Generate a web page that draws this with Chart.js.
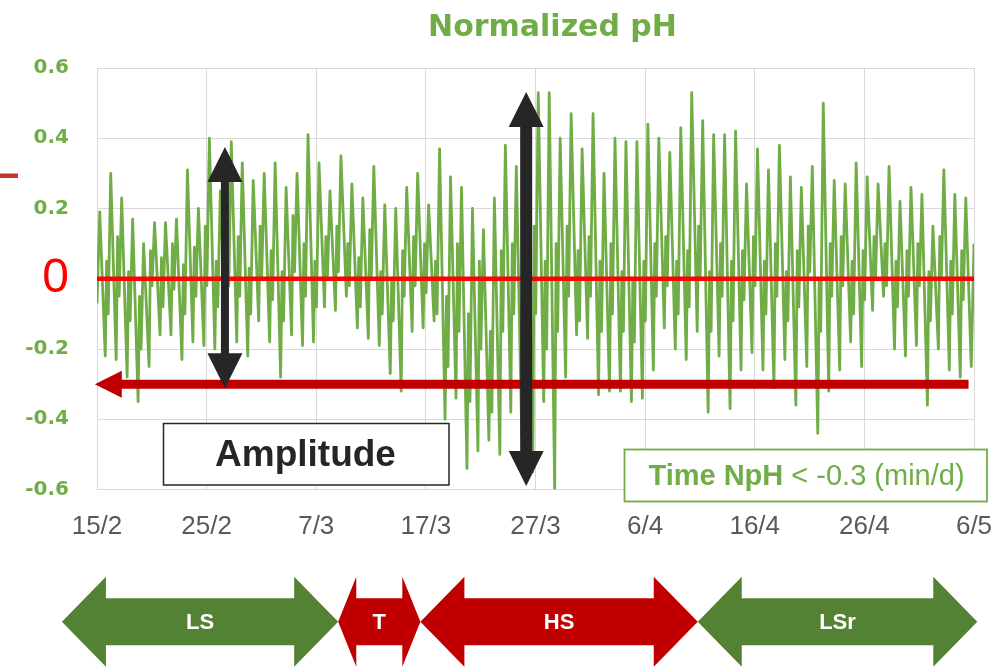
<!DOCTYPE html>
<html><head><meta charset="utf-8">
<script src="https://cdn.jsdelivr.net/npm/chart.js@4.4.1/dist/chart.umd.min.js"></script>
<style>html,body{margin:0;padding:0;background:#fff;} #wrap{width:1004px;height:669px;position:relative;}</style>
</head><body><div id="wrap"><canvas id="c" width="1004" height="669"></canvas></div>
<script>
// ---- data ----
const xTickLabels = ['15/2','25/2','7/3','17/3','27/3','6/4','16/4','26/4','6/5'];
const yTickLabels = ['-0.6','-0.4','-0.2','0','0.2','0.4','0.6'];
// daily maximum (afternoon) of normalized pH, day 0 = 15/2
const dayPeaks = [
  0.19,0.30,0.23,0.17,0.10,0.16,0.16,0.17,0.31,0.20,
  0.40,0.25,0.39,0.33,0.28,0.30,0.33,0.26,0.30,0.41,
  0.33,0.25,0.35,0.27,0.23,0.32,0.21,0.20,0.26,0.30,
  0.21,0.37,0.29,0.26,0.20,0.14,0.23,0.38,0.32,0.45,
  0.53,0.53,0.40,0.47,0.37,0.47,0.30,0.40,0.39,0.39,
  0.44,0.40,0.36,0.43,0.53,0.45,0.41,0.41,0.42,0.27,
  0.37,0.31,0.38,0.29,0.26,0.32,0.50,0.28,0.27,0.33,
  0.29,0.27,0.32,0.22,0.26,0.24,0.15,0.31,0.24,0.23
];
// daily minimum (night) of normalized pH
const dayTroughs = [
  -0.22,-0.23,-0.28,-0.35,-0.25,-0.16,-0.16,-0.23,-0.18,-0.19,
  -0.20,-0.15,-0.18,-0.22,-0.12,-0.18,-0.28,-0.16,-0.19,-0.18,
  -0.08,-0.09,-0.05,-0.14,-0.17,-0.19,-0.27,-0.32,-0.15,-0.14,
  -0.12,-0.40,-0.34,-0.54,-0.49,-0.46,-0.50,-0.38,-0.45,-0.55,
  -0.35,-0.60,-0.28,-0.16,-0.17,-0.33,-0.32,-0.32,-0.35,-0.34,
  -0.26,-0.14,-0.20,-0.23,-0.15,-0.38,-0.22,-0.37,-0.26,-0.21,
  -0.26,-0.31,-0.23,-0.36,-0.25,-0.44,-0.32,-0.26,-0.18,-0.25,
  -0.09,-0.05,-0.20,-0.22,-0.19,-0.36,-0.20,-0.26,-0.28,-0.25
];
// secondary early-morning rebound after each night minimum
const morningRebound = [
  0.05,0.12,0.02,-0.05,0.08,0.06,0.10,0.04,0.09,0.15,
  0.05,0.10,0.12,0.03,0.15,0.08,0.02,0.18,0.10,0.05,
  0.12,0.15,0.10,0.06,0.14,0.02,0.00,0.08,0.12,0.10,
  0.05,-0.05,0.10,-0.10,0.05,-0.15,0.08,0.10,-0.05,0.15,
  0.05,0.10,0.15,0.08,0.12,0.05,0.10,0.02,0.00,0.05,
  0.10,0.12,0.05,0.08,0.15,0.02,0.10,0.05,0.08,0.12,
  0.05,0.10,0.02,0.08,0.15,0.00,0.10,0.12,0.05,0.08,
  0.12,0.10,0.05,0.08,0.10,0.02,0.12,0.05,0.08
];
// short dip that follows the rebound, before the next daily rise
const morningDip = [
  -0.10,-0.05,-0.12,-0.20,-0.02,-0.08,-0.03,-0.10,-0.05,-0.02,
  -0.08,-0.02,-0.05,-0.10,0.00,-0.06,-0.12,0.02,-0.05,-0.08,
  0.00,0.02,-0.02,-0.08,0.00,-0.10,-0.12,-0.05,-0.02,-0.04,
  -0.10,-0.25,-0.15,-0.35,-0.20,-0.38,-0.15,-0.10,-0.30,-0.10,
  -0.20,-0.15,-0.05,-0.12,-0.05,-0.15,-0.10,-0.15,-0.18,-0.12,
  -0.05,-0.02,-0.10,-0.08,0.00,-0.15,-0.05,-0.12,-0.06,-0.02,
  -0.10,-0.05,-0.12,-0.08,0.02,-0.15,-0.05,-0.02,-0.10,-0.06,
  0.00,-0.02,-0.08,-0.05,-0.02,-0.12,0.00,-0.10,-0.06
];
const startValue = -0.07;
const endValue = 0.10;
const thresholdValue = -0.3;
const thresholdFrom = -0.2, thresholdTo = 79.5;
const amplitudeDays = [11.67, 39.15];
const amplitudeTop = [0.375, 0.532];
const amplitudeBottom = [-0.312, -0.59];
const phaseNames = ['LS','T','HS','LSr'];
const phaseFrom = [-3.2, 22.0, 29.5, 54.8];
const phaseTo = [22.0, 29.5, 54.8, 80.3];

// ---- build series ----
const series = [{x:0, y:startValue}];
for (let d = 0; d < dayPeaks.length; d++) {
  series.push({x:d+0.25, y:dayPeaks[d]});
  series.push({x:d+0.75, y:dayTroughs[d]});
  if (d < morningRebound.length) {
    series.push({x:d+0.88, y:morningRebound[d]});
    series.push({x:d+1.02, y:morningDip[d]});
  }
}
series.push({x:80, y:endValue});

const GREEN = '#70AD47';
const phaseColors = ['#548235','#C00000','#C00000','#548235'];
const isZeroTick = c => !!(c && c.tick && Math.abs(c.tick.value) < 1e-9);

function vArrow(ctx, x, yTop, yBot, shaft, headW, headL) {
  ctx.beginPath();
  ctx.moveTo(x, yTop);
  ctx.lineTo(x+headW/2, yTop+headL);
  ctx.lineTo(x+shaft/2, yTop+headL);
  ctx.lineTo(x+shaft/2, yBot-headL);
  ctx.lineTo(x+headW/2, yBot-headL);
  ctx.lineTo(x, yBot);
  ctx.lineTo(x-headW/2, yBot-headL);
  ctx.lineTo(x-shaft/2, yBot-headL);
  ctx.lineTo(x-shaft/2, yTop+headL);
  ctx.lineTo(x-headW/2, yTop+headL);
  ctx.closePath();
  ctx.fill();
}
function hArrow(ctx, xL, xR, yc, shaftH, headH, headL) {
  ctx.beginPath();
  ctx.moveTo(xL, yc);
  ctx.lineTo(xL+headL, yc-headH/2);
  ctx.lineTo(xL+headL, yc-shaftH/2);
  ctx.lineTo(xR-headL, yc-shaftH/2);
  ctx.lineTo(xR-headL, yc-headH/2);
  ctx.lineTo(xR, yc);
  ctx.lineTo(xR-headL, yc+headH/2);
  ctx.lineTo(xR-headL, yc+shaftH/2);
  ctx.lineTo(xL+headL, yc+shaftH/2);
  ctx.lineTo(xL+headL, yc+headH/2);
  ctx.closePath();
  ctx.fill();
}

const annot = {
  id: 'annot',
  afterDatasetsDraw(chart) {
    const ctx = chart.ctx, xs = chart.scales.x, ys = chart.scales.y;
    ctx.save();
    // threshold arrow at -0.3
    const ty = ys.getPixelForValue(thresholdValue);
    const tx0 = xs.getPixelForValue(thresholdFrom), tx1 = xs.getPixelForValue(thresholdTo);
    ctx.fillStyle = '#C00000';
    ctx.beginPath();
    ctx.moveTo(tx0, ty);
    ctx.lineTo(tx0+27, ty-13.5);
    ctx.lineTo(tx0+27, ty-4.5);
    ctx.lineTo(tx1, ty-4.5);
    ctx.lineTo(tx1, ty+4.5);
    ctx.lineTo(tx0+27, ty+4.5);
    ctx.lineTo(tx0+27, ty+13.5);
    ctx.closePath();
    ctx.fill();
    // amplitude arrows
    ctx.fillStyle = '#262626';
    const shafts = [8, 12];
    amplitudeDays.forEach((d, i) => {
      vArrow(ctx, xs.getPixelForValue(d), ys.getPixelForValue(amplitudeTop[i]),
             ys.getPixelForValue(amplitudeBottom[i]), shafts[i], 35, 35);
    });
    // Amplitude box
    ctx.fillStyle = '#fff';
    ctx.fillRect(163.5, 423.5, 285.5, 61.5);
    ctx.strokeStyle = '#262626'; ctx.lineWidth = 1.5;
    ctx.strokeRect(163.5, 423.5, 285.5, 61.5);
    ctx.fillStyle = '#262626';
    ctx.font = 'bold 37px "Liberation Sans", Arial, sans-serif';
    ctx.textAlign = 'center'; ctx.textBaseline = 'alphabetic';
    ctx.fillText('Amplitude', 305.5, 466);
    // Time box
    ctx.fillStyle = '#fff';
    ctx.fillRect(624.5, 449.5, 362.5, 52);
    ctx.strokeStyle = GREEN; ctx.lineWidth = 1.8;
    ctx.strokeRect(624.5, 449.5, 362.5, 52);
    ctx.fillStyle = GREEN;
    const fb = 'bold 29px "Liberation Sans", Arial, sans-serif';
    const fn = '29px "Liberation Sans", Arial, sans-serif';
    const t1 = 'Time NpH', t2 = ' < -0.3 (min/d)';
    ctx.font = fb; const w1 = ctx.measureText(t1).width;
    ctx.font = fn; const w2 = ctx.measureText(t2).width;
    let sx = 806.5 - (w1+w2)/2;
    ctx.textAlign = 'left';
    ctx.font = fb; ctx.fillText(t1, sx, 485);
    ctx.font = fn; ctx.fillText(t2, sx+w1, 485);
    ctx.restore();
  },
  afterDraw(chart) {
    const ctx = chart.ctx, xs = chart.scales.x;
    ctx.save();
    // title
    ctx.fillStyle = GREEN;
    ctx.font = 'bold 30px "DejaVu Sans", sans-serif';
    ctx.textAlign = 'center'; ctx.textBaseline = 'alphabetic';
    ctx.fillText('Normalized pH', 552.5, 36);
    // small red dash at left
    ctx.fillStyle = '#C0392B';
    ctx.fillRect(0, 173.5, 18, 4.5);
    // phase arrows
    phaseNames.forEach((name, i) => {
      const xL = xs.getPixelForValue(phaseFrom[i]), xR = xs.getPixelForValue(phaseTo[i]);
      const headL = Math.min(44, (xR-xL)*0.22);
      ctx.fillStyle = phaseColors[i];
      hArrow(ctx, xL, xR, 621.8, 47, 90, headL);
      ctx.fillStyle = '#fff';
      ctx.font = 'bold 22px "Liberation Sans", Arial, sans-serif';
      ctx.textAlign = 'center'; ctx.textBaseline = 'middle';
      ctx.fillText(name, (xL+xR)/2, 623);
    });
    ctx.restore();
  }
};

new Chart(document.getElementById('c').getContext('2d'), {
  type: 'line',
  data: { datasets: [
    { label: 'Zero', data: [{x:0,y:0},{x:80,y:0}], borderColor: '#FF0000', borderWidth: 4.5,
      pointRadius: 0, order: 0 },
    { label: 'Normalized pH', data: series, borderColor: GREEN, borderWidth: 2.8,
      pointRadius: 0, tension: 0, order: 1, borderJoinStyle: 'round' }
  ]},
  options: {
    responsive: false, animation: false, devicePixelRatio: 1,
    layout: { padding: { top: 68, right: 30, left: 0, bottom: 0 } },
    plugins: { legend: { display: false }, tooltip: { enabled: false }, title: { display: false } },
    scales: {
      x: {
        type: 'linear', min: 0, max: 80,
        afterFit(s) { s.height = 179.5; s.paddingLeft = 0; s.paddingRight = 0; },
        ticks: { stepSize: 10, autoSkip: false, maxRotation: 0,
          callback: (v, i) => xTickLabels[i],
          font: { family: '"Liberation Sans", Arial, sans-serif', size: 26 },
          color: '#595959', padding: 22 },
        grid: { color: '#D9D9D9', drawTicks: false, lineWidth: 1 },
        border: { color: '#D9D9D9' }
      },
      y: {
        min: -0.6, max: 0.6,
        afterFit(s) { s.width = 97; s.paddingTop = 0; s.paddingBottom = 0; },
        ticks: { stepSize: 0.2, autoSkip: false,
          callback: (v, i) => yTickLabels[i],
          color: c => (isZeroTick(c) ? '#FF0000' : GREEN),
          font: c => (isZeroTick(c)
            ? { family: '"Liberation Sans", Arial, sans-serif', size: 48, weight: 'normal' }
            : { family: '"DejaVu Sans", sans-serif', size: 20, weight: 'bold' }),
          padding: 28 },
        grid: { color: '#D9D9D9', drawTicks: false, lineWidth: 1 },
        border: { color: '#D9D9D9' }
      }
    }
  },
  plugins: [annot]
});
</script>
</body></html>
